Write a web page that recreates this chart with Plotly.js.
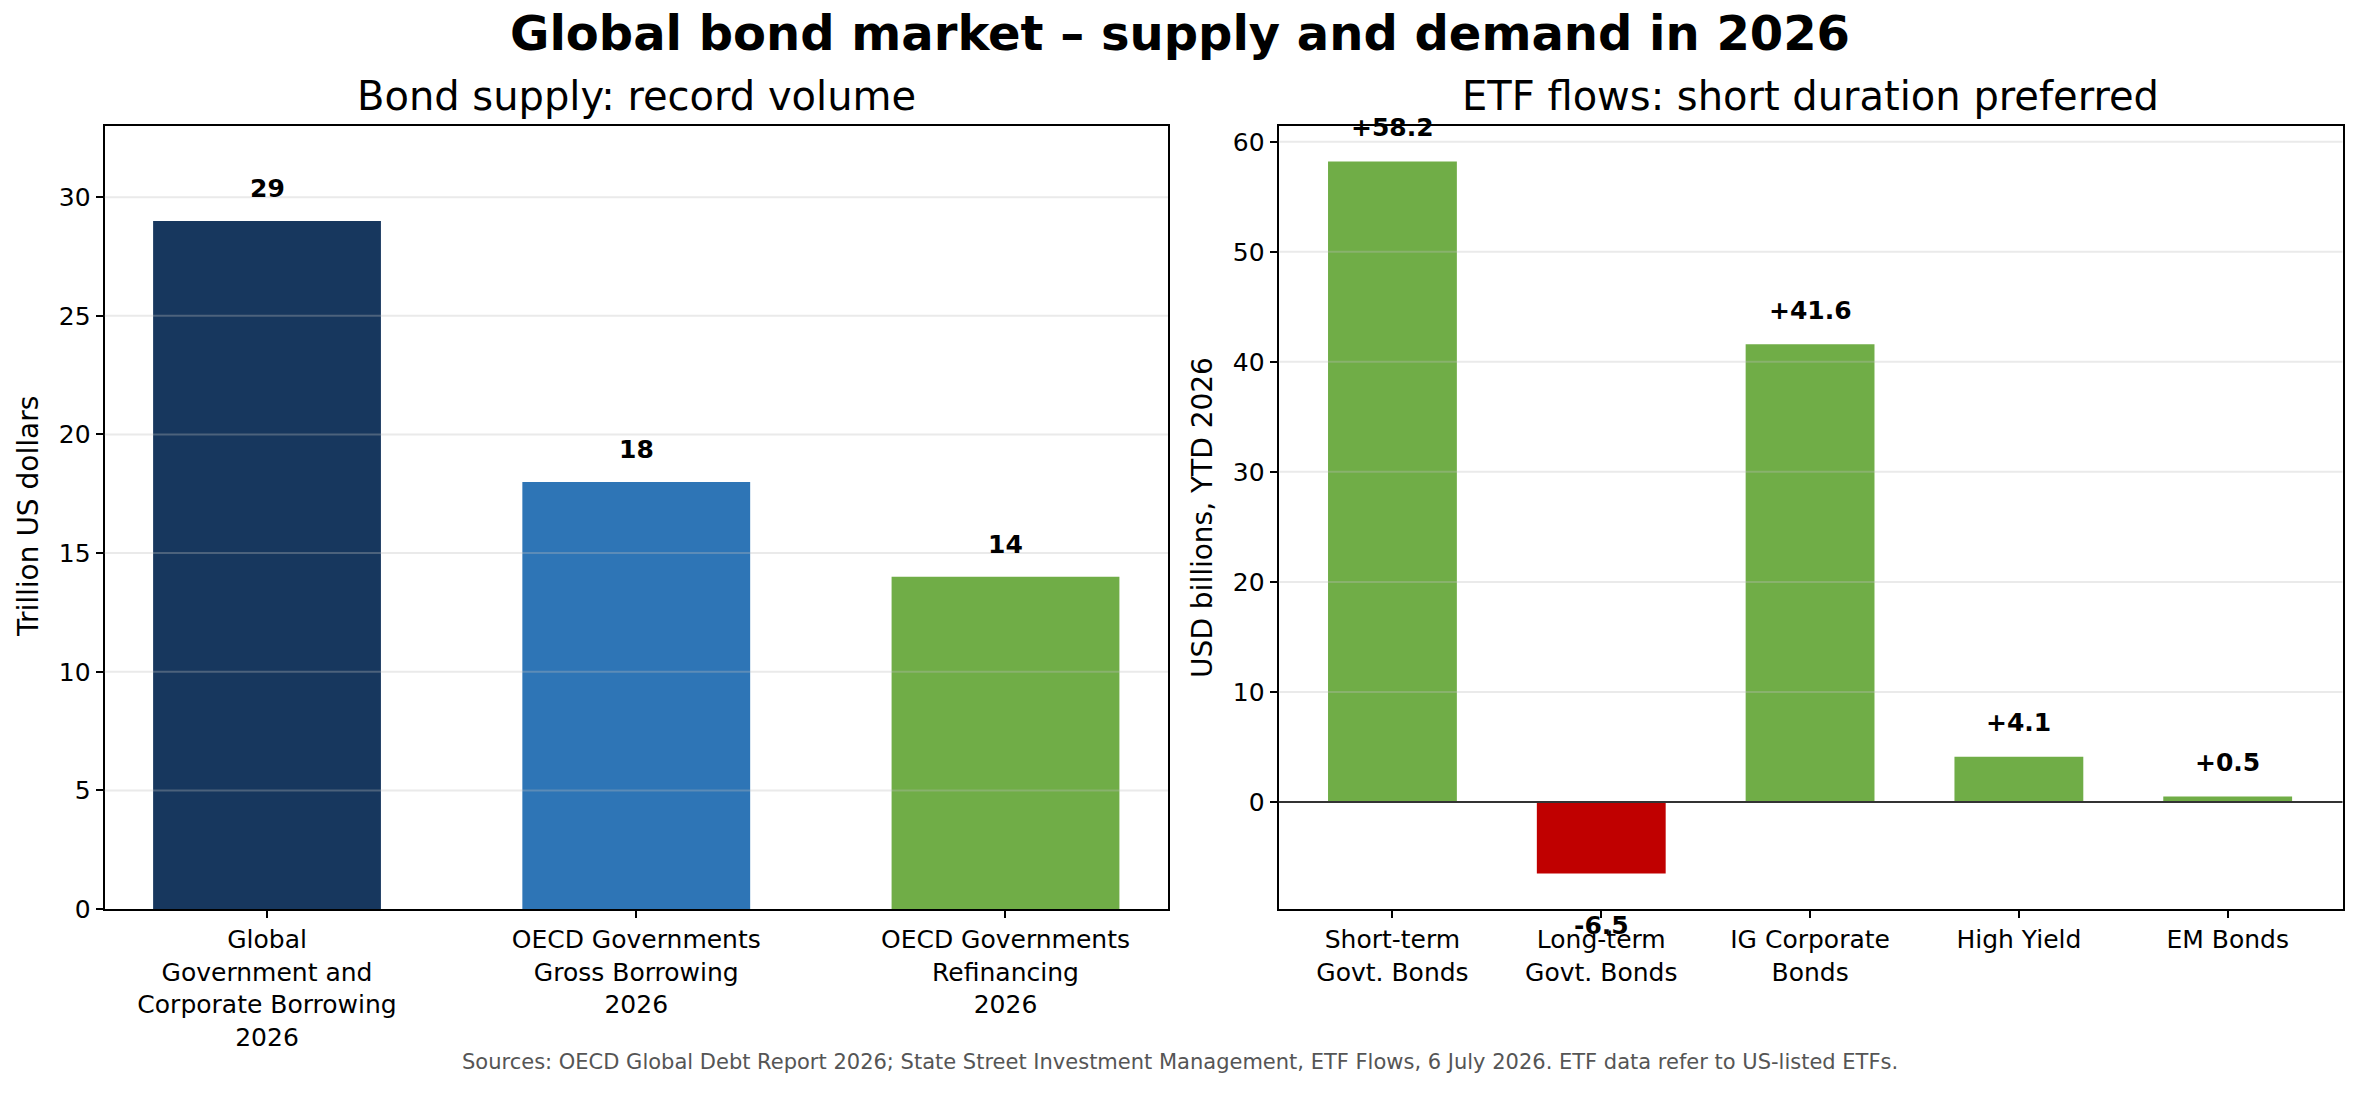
<!DOCTYPE html>
<html>
<head>
<meta charset="utf-8">
<script src="https://cdn.plot.ly/plotly-3.0.1.min.js"></script>
<style>
  html, body { margin: 0; padding: 0; background: #ffffff; }
  #chart { width: 2360px; height: 1093px; }
</style>
</head>
<body>
<div id="chart"></div>
<script>
// bond supply, trillion USD
var supplyLabels = ['Global<br>Government and<br>Corporate Borrowing<br>2026',
                    'OECD Governments<br>Gross Borrowing<br>2026',
                    'OECD Governments<br>Refinancing<br>2026'];
var supplyValues = [29, 18, 14];
var supplyColors = ['#17375E', '#2E75B6', '#70AD47'];
var supplyTicks = [0, 5, 10, 15, 20, 25, 30];

// ETF flows, USD billions YTD
var flowLabels = ['Short-term<br>Govt. Bonds', 'Long-term<br>Govt. Bonds',
                  'IG Corporate<br>Bonds', 'High Yield', 'EM Bonds'];
var flowValues = [58.2, -6.5, 41.6, 4.1, 0.5];
var flowTicks = [0, 10, 20, 30, 40, 50, 60];

var FONT = 'DejaVu Sans, sans-serif';
var GREEN = '#70AD47', RED = '#C00000';
var gridCol = 'rgba(190,190,190,0.32)';

var traceSupply = {
    type: 'bar',
    x: supplyLabels,
    y: supplyValues,
    marker: {color: supplyColors},
    xaxis: 'x', yaxis: 'y',
    hoverinfo: 'x+y',
    showlegend: false
};
var traceFlows = {
    type: 'bar',
    x: flowLabels,
    y: flowValues,
    marker: {color: flowValues.map(function(v){ return v < 0 ? RED : GREEN; })},
    xaxis: 'x2', yaxis: 'y2',
    hoverinfo: 'x+y',
    showlegend: false
};

var annotations = [];
var shapes = [];

// value labels
for (var i = 0; i < supplyValues.length; i++) {
    annotations.push({
        xref: 'x', yref: 'y', x: supplyLabels[i], y: supplyValues[i],
        text: '<b>' + supplyValues[i] + '</b>', showarrow: false,
        xanchor: 'center', yanchor: 'middle', yshift: 32,
        font: {family: FONT, size: 25, color: '#000'}
    });
}
for (var j = 0; j < flowValues.length; j++) {
    var v = flowValues[j];
    annotations.push({
        xref: 'x2', yref: 'y2', x: flowLabels[j], y: v,
        text: '<b>' + (v >= 0 ? '+' : '') + v.toFixed(1) + '</b>', showarrow: false,
        xanchor: 'center', yanchor: 'middle', yshift: v >= 0 ? 34 : -52,
        font: {family: FONT, size: 25, color: '#000'}
    });
}

// titles
annotations.push({xref: 'paper', yref: 'paper', x: 0.5, y: 0.970, showarrow: false,
    xanchor: 'center', yanchor: 'middle',
    text: '<b>Global bond market – supply and demand in 2026</b>',
    font: {family: FONT, size: 48, color: '#000'}});
annotations.push({xref: 'paper', yref: 'paper', x: 0.2696, y: 0.912, showarrow: false,
    xanchor: 'center', yanchor: 'middle',
    text: 'Bond supply: record volume',
    font: {family: FONT, size: 40, color: '#000'}});
annotations.push({xref: 'paper', yref: 'paper', x: 0.7672, y: 0.912, showarrow: false,
    xanchor: 'center', yanchor: 'middle',
    text: 'ETF flows: short duration preferred',
    font: {family: FONT, size: 40, color: '#000'}});
annotations.push({xref: 'paper', yref: 'paper', x: 0.0123, y: 0.527, showarrow: false,
    xanchor: 'center', yanchor: 'middle',
    text: 'Trillion US dollars', textangle: -90,
    font: {family: FONT, size: 28, color: '#000'}});
annotations.push({xref: 'paper', yref: 'paper', x: 0.5097, y: 0.527, showarrow: false,
    xanchor: 'center', yanchor: 'middle',
    text: 'USD billions, YTD 2026', textangle: -90,
    font: {family: FONT, size: 28, color: '#000'}});
annotations.push({xref: 'paper', yref: 'paper', x: 0.5, y: 0.0285, showarrow: false,
    xanchor: 'center', yanchor: 'middle',
    text: 'Sources: OECD Global Debt Report 2026; State Street Investment Management, ETF Flows, 6 July 2026. ETF data refer to US-listed ETFs.',
    font: {family: FONT, size: 21, color: '#555555'}});

// gridlines drawn over the bars, like the original
supplyTicks.slice(1).forEach(function(t){
    shapes.push({type: 'line', layer: 'above', xref: 'x domain', yref: 'y',
        x0: 0, x1: 1, y0: t, y1: t, line: {color: gridCol, width: 2}});
});
flowTicks.slice(1).forEach(function(t){
    shapes.push({type: 'line', layer: 'above', xref: 'x2 domain', yref: 'y2',
        x0: 0, x1: 1, y0: t, y1: t, line: {color: gridCol, width: 2}});
});
// zero line in flows panel
shapes.push({type: 'line', layer: 'above', xref: 'x2 domain', yref: 'y2',
    x0: 0, x1: 1, y0: 0, y1: 0, line: {color: '#333333', width: 2}});

var axisCommon = {
    showline: true, mirror: true, linecolor: '#000', linewidth: 2,
    ticks: 'outside', ticklen: 7, tickwidth: 2, tickcolor: '#000',
    showgrid: false, zeroline: false,
    tickfont: {family: FONT, size: 25, color: '#000'}
};

var layout = {
    width: 2360, height: 1093,
    margin: {l: 0, r: 0, t: 0, b: 0},
    paper_bgcolor: '#fff', plot_bgcolor: '#fff',
    bargap: 0.383,
    xaxis: Object.assign({}, axisCommon, {domain: [0.0443, 0.4949], type: 'category', range: [-0.44, 2.44]}),
    yaxis: Object.assign({}, axisCommon, {domain: [0.1683, 0.8847], range: [0, 33], tickvals: supplyTicks}),
    xaxis2: Object.assign({}, axisCommon, {domain: [0.5418, 0.9926], type: 'category', range: [-0.545, 4.55], anchor: 'y2'}),
    yaxis2: Object.assign({}, axisCommon, {domain: [0.1683, 0.8847], range: [-9.735, 61.435], tickvals: flowTicks, anchor: 'x2'}),
    annotations: annotations,
    shapes: shapes
};

Plotly.newPlot('chart', [traceSupply, traceFlows], layout, {displayModeBar: false, staticPlot: true});
</script>
</body>
</html>
